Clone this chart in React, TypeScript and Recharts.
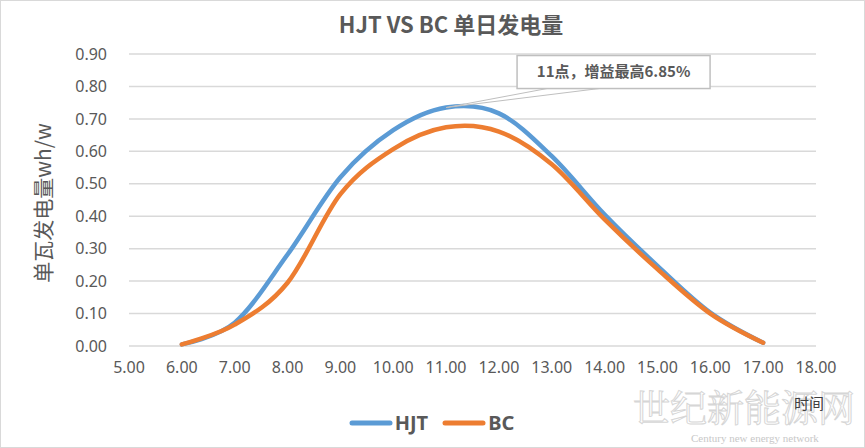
import React from "react"
import { LineChart, Line, XAxis, YAxis, CartesianGrid, Legend, ReferenceDot } from "recharts"

const hours = [6, 7, 8, 9, 10, 11, 12, 13, 14, 15, 16, 17]
const hjt = [0.005, 0.072, 0.282, 0.52, 0.665, 0.735, 0.717, 0.585, 0.405, 0.247, 0.103, 0.01]
const bc = [0.005, 0.066, 0.195, 0.468, 0.607, 0.674, 0.661, 0.56, 0.39, 0.237, 0.1, 0.01]

const seriesNames = ["HJT", "BC"]
const seriesColors = ["#5B9BD5", "#ED7D31"]

const xTicks = [5, 6, 7, 8, 9, 10, 11, 12, 13, 14, 15, 16, 17, 18]
const yTicks = [0, 0.1, 0.2, 0.3, 0.4, 0.5, 0.6, 0.7, 0.8, 0.9]

const calloutHour = 11
const calloutText = "11点，增益最高6.85%"

const data = hours.map((h, i) => ({ hour: h, HJT: hjt[i], BC: bc[i] }))

const GREY = "#595959"
const FONT = "'Noto Sans', 'Noto Sans CJK SC', sans-serif"
const CJK = "'Noto Sans CJK SC', sans-serif"

// excel style smoothing: catmull-rom / cardinal with tension 0
function excelCurve(context: any) {
  let x0 = NaN, y0 = NaN, x1 = NaN, y1 = NaN, x2 = NaN, y2 = NaN
  let n = 0
  const k = 1 / 6
  const seg = (x: number, y: number) => {
    context.bezierCurveTo(
      x1 + k * (x2 - x0), y1 + k * (y2 - y0),
      x2 + k * (x1 - x), y2 + k * (y1 - y),
      x2, y2
    )
  }
  return {
    areaStart() {},
    areaEnd() {},
    lineStart() {
      x0 = x1 = x2 = y0 = y1 = y2 = NaN
      n = 0
    },
    lineEnd() {
      if (n === 2) context.lineTo(x2, y2)
      else if (n === 3) seg(x1, y1)
    },
    point(x: number, y: number) {
      x = +x
      y = +y
      if (n === 0) {
        n = 1
        context.moveTo(x, y)
      } else if (n === 1) {
        n = 2
        x1 = x
        y1 = y
      } else {
        n = 3
        seg(x, y)
      }
      x0 = x1; x1 = x2; x2 = x
      y0 = y1; y1 = y2; y2 = y
    },
  }
}

function Callout(props: any) {
  const { cx, cy } = props
  const bx = cx + 71
  const by = cy - 52
  const w = 193
  const h = 33
  return (
    <g>
      <polygon
        points={`${cx},${cy} ${cx + 101},${by + h} ${cx + 153},${by + h}`}
        fill="#fff"
        stroke="#BFBFBF"
        strokeWidth={1}
      />
      <rect x={bx} y={by} width={w} height={h} fill="#fff" stroke="#BFBFBF" strokeWidth={1.5} />
      <text
        x={bx + w / 2}
        y={by + h / 2 + 1}
        textAnchor="middle"
        dominantBaseline="middle"
        fontFamily={CJK}
        fontWeight="bold"
        fontSize={15}
        fill={GREY}
      >
        {calloutText}
      </text>
    </g>
  )
}

function LegendContent() {
  return (
    <div style={{ display: "flex", justifyContent: "center", alignItems: "center", paddingLeft: 10 }}>
      {seriesNames.map((name, i) => (
        <div key={name} style={{ display: "flex", alignItems: "center", marginRight: 14 }}>
          <svg width={44} height={10}>
            <line x1={3} y1={5} x2={41} y2={5} stroke={seriesColors[i]} strokeWidth={5} strokeLinecap="round" />
          </svg>
          <span style={{ fontFamily: FONT, fontWeight: "bold", fontSize: 20, color: GREY, marginLeft: 2 }}>
            {name}
          </span>
        </div>
      ))}
    </div>
  )
}

export default function App() {
  return (
    <div
      style={{
        position: "absolute",
        left: 0,
        top: 0,
        width: 865,
        height: 448,
        background: "#fff",
        border: "1px solid #D9D9D9",
        boxSizing: "border-box",
        overflow: "hidden",
      }}
    >
      <div
        style={{
          position: "absolute",
          left: 0,
          width: 900,
          top: 8,
          textAlign: "center",
          fontFamily: CJK,
          fontWeight: "bold",
          fontSize: 22,
          color: GREY,
          lineHeight: "28px",
        }}
      >
        HJT VS BC 单日发电量
      </div>

      {/* watermark of the source site */}
      <div
        style={{
          position: "absolute",
          left: 632,
          top: 383,
          fontFamily: "'Noto Serif CJK SC', 'Noto Sans CJK SC', serif",
          fontSize: 37,
          color: "transparent",
          WebkitTextStroke: "1px #d6d6d6",
          lineHeight: "44px",
        }}
      >
        世纪新能源网
      </div>
      <div
        style={{
          position: "absolute",
          left: 690,
          top: 430,
          fontFamily: "'Liberation Serif', serif",
          fontSize: 11,
          color: "#c8c8c8",
          lineHeight: "14px",
        }}
      >
        Century new energy network
      </div>

      <LineChart
        width={865}
        height={448}
        data={data}
        margin={{ top: 53, right: 50, bottom: 73, left: -1 }}
        style={{ position: "absolute", left: 0, top: 0 }}
      >
        <CartesianGrid vertical={false} stroke="#D9D9D9" strokeWidth={1.5} />
        <XAxis
          dataKey="hour"
          type="number"
          domain={[5, 18]}
          ticks={xTicks}
          interval={0}
          height={30}
          tickFormatter={(v: number) => v.toFixed(2)}
          tick={{ fill: GREY, fontSize: 16, fontFamily: FONT }}
          tickLine={false}
          axisLine={false}
          tickSize={0}
          tickMargin={16}
          label={{
            content: (p: any) => {
              const vb = p.viewBox || { x: 128, y: 345, width: 687, height: 30 }
              return (
                <text
                  x={vb.x + vb.width - 7}
                  y={vb.y + 59}
                  textAnchor="middle"
                  dominantBaseline="middle"
                  fontFamily={CJK}
                  fontSize={15}
                  fill="#404040"
                >
                  时间
                </text>
              )
            },
          }}
        />
        <YAxis
          type="number"
          domain={[0, 0.9]}
          ticks={yTicks}
          interval={0}
          width={129}
          tickFormatter={(v: number) => v.toFixed(2)}
          tick={{ fill: GREY, fontSize: 16, fontFamily: FONT }}
          tickLine={false}
          axisLine={false}
          tickSize={0}
          tickMargin={22}
          label={{
            content: (p: any) => {
              const vb = p.viewBox || { x: 0, y: 53, width: 128, height: 292 }
              const cx = vb.x + 45
              const cy = vb.y + vb.height / 2 + 3
              return (
                <text
                  x={cx}
                  y={cy}
                  transform={`rotate(-90 ${cx} ${cy})`}
                  textAnchor="middle"
                  dominantBaseline="middle"
                  fontFamily={CJK}
                  fontSize={21}
                  fill={GREY}
                >
                  单瓦发电量wh/w
                </text>
              )
            },
          }}
        />
        <Line
          dataKey="HJT"
          type={excelCurve as any}
          stroke={seriesColors[0]}
          strokeWidth={4.5}
          strokeLinecap="round"
          dot={false}
          activeDot={false}
          isAnimationActive={false}
        />
        <Line
          dataKey="BC"
          type={excelCurve as any}
          stroke={seriesColors[1]}
          strokeWidth={4.5}
          strokeLinecap="round"
          dot={false}
          activeDot={false}
          isAnimationActive={false}
        />
        <ReferenceDot
          x={calloutHour}
          y={hjt[hours.indexOf(calloutHour)]}
          shape={(p: any) => <Callout {...p} />}
        />
        <Legend
          verticalAlign="middle"
          content={() => <LegendContent />}
          wrapperStyle={{ top: 408, left: 0, width: 865 }}
        />
      </LineChart>
    </div>
  )
}
